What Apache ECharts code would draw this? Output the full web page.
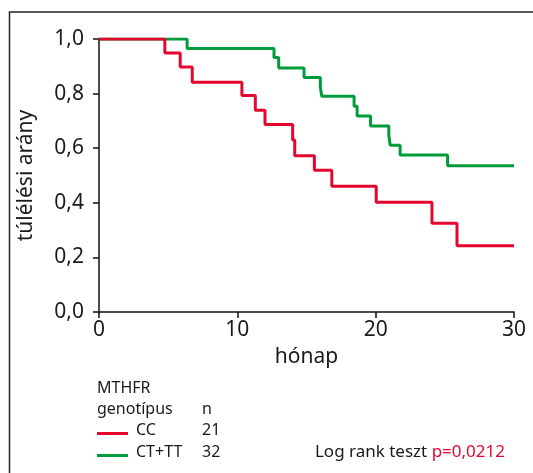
<!DOCTYPE html>
<html>
<head>
<meta charset="utf-8">
<script src="https://cdn.jsdelivr.net/npm/echarts@6/dist/echarts.min.js"></script>
<style>
  html, body { margin: 0; padding: 0; background: #fff; }
  #chart { width: 533px; height: 473px; }
</style>
</head>
<body>
<div id="chart"></div>
<script>
  // Kaplan-Meier lépések: [hónap, túlélési arány]
  var ccData = [[0, 1], [4.76, 0.949], [5.87, 0.897], [6.74, 0.842], [10.33, 0.793], [11.3, 0.739],
    [12.0, 0.687], [14.0, 0.63], [14.15, 0.572], [15.57, 0.519], [16.83, 0.461], [20.04, 0.402],
    [24.07, 0.325], [25.88, 0.243], [30, 0.243]];
  var ctttData = [[0, 1], [6.37, 0.965], [12.65, 0.932], [12.99, 0.894], [14.82, 0.859], [16.0, 0.825],
    [16.1, 0.79], [18.44, 0.754], [18.66, 0.718], [19.63, 0.681], [20.95, 0.648], [21.05, 0.611],
    [21.77, 0.575], [25.2, 0.536], [30, 0.536]];
  var groupNames = ["CC", "CT+TT"];
  var groupN = ["21", "32"];
  var colors = ["#e3072f", "#009c3b"];

  var font = "Noto Sans";
  var myChart = echarts.init(document.getElementById("chart"));

  var legendEls = [
    { type: "text", left: 97, top: 380, style: { text: "MTHFR", font: "16px " + font, fill: "#1a1a1a" } },
    { type: "text", left: 97, top: 401, style: { text: "genotípus", font: "16px " + font, fill: "#1a1a1a" } },
    { type: "text", left: 202, top: 401, style: { text: "n", font: "16px " + font, fill: "#1a1a1a" } }
  ];
  for (var i = 0; i < groupNames.length; i++) {
    var y = 433.5 + i * 22;
    legendEls.push({ type: "line", shape: { x1: 97, y1: y, x2: 128, y2: y }, style: { stroke: colors[i], lineWidth: 3 } });
    legendEls.push({ type: "text", left: 136, top: y - 11, style: { text: groupNames[i], font: "16px " + font, fill: "#1a1a1a" } });
    legendEls.push({ type: "text", left: 202, top: y - 11, style: { text: groupN[i], font: "16px " + font, fill: "#1a1a1a" } });
  }
  legendEls.push({
    type: "text", right: 28, top: 444,
    style: {
      text: "{a|Log rank teszt }{b|p=0,0212}",
      rich: {
        a: { font: "17px " + font, fill: "#1a1a1a" },
        b: { font: "17px " + font, fill: colors[0] }
      }
    }
  });
  // keret
  legendEls.push({ type: "rect", shape: { x: 9.5, y: 12, width: 700, height: 700 }, style: { fill: "none", stroke: "#222", lineWidth: 1.5 } });

  var option = {
    animation: false,
    grid: { left: 99, right: 19, top: 39, bottom: 161 },
    xAxis: {
      type: "value", min: 0, max: 30, interval: 10,
      name: "hónap", nameLocation: "middle", nameGap: 35,
      nameTextStyle: { fontFamily: font, fontSize: 21, color: "#1a1a1a" },
      axisLine: { lineStyle: { color: "#111", width: 1.5 } },
      axisTick: { length: 6, lineStyle: { color: "#111", width: 1.5 } },
      axisLabel: { fontFamily: font, fontSize: 21, color: "#1a1a1a", margin: 8 },
      splitLine: { show: false }
    },
    yAxis: {
      type: "value", min: 0, max: 1, interval: 0.2,
      name: "túlélési arány", nameLocation: "middle", nameGap: 62,
      nameTextStyle: { fontFamily: font, fontSize: 21, color: "#1a1a1a" },
      axisLine: { show: true, lineStyle: { color: "#111", width: 1.5 } },
      axisTick: { show: true, length: 6, lineStyle: { color: "#111", width: 1.5 } },
      axisLabel: {
        fontFamily: font, fontSize: 21, color: "#1a1a1a", margin: 15,
        formatter: function (v) { return v.toFixed(1).replace(".", ","); }
      },
      splitLine: { show: false }
    },
    series: [
      { name: groupNames[1], type: "line", step: "end", data: ctttData, symbol: "none", lineStyle: { color: colors[1], width: 3 } },
      { name: groupNames[0], type: "line", step: "end", data: ccData, symbol: "none", lineStyle: { color: colors[0], width: 3 } }
    ],
    graphic: legendEls
  };

  myChart.setOption(option);
</script>
</body>
</html>
